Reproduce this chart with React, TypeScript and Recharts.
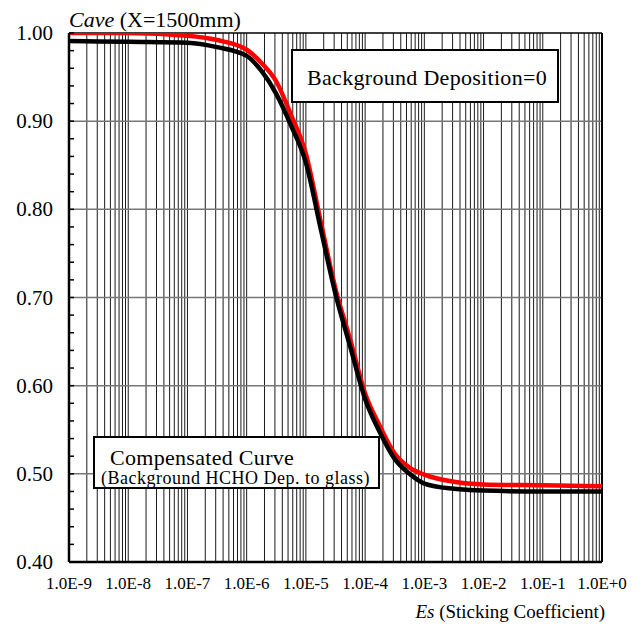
import React from 'react';
import { LineChart, Line, XAxis, YAxis, CartesianGrid, ReferenceLine } from 'recharts';

// Es (sticking coefficient) sample points
const esValues = [
  1e-9, 1e-8, 1e-7, 3.16e-7, 1e-6, 1.78e-6, 3.16e-6, 5.62e-6, 1e-5, 1.78e-5, 3.16e-5,
  5.62e-5, 1e-4, 1.78e-4, 3.16e-4, 5.62e-4, 1e-3, 3.16e-3, 1e-2, 1e-1, 1,
];
// Compensated curve (black)
const compensated = [
  0.991, 0.99, 0.989, 0.984, 0.974, 0.957, 0.931, 0.895, 0.853, 0.778, 0.704,
  0.644, 0.585, 0.547, 0.517, 0.5, 0.489, 0.483, 0.481, 0.48, 0.48,
];
// Background deposition = 0 (red)
const zeroDeposition = [
  1.0, 1.0, 0.997, 0.992, 0.981, 0.966, 0.945, 0.907, 0.863, 0.786, 0.71,
  0.652, 0.591, 0.554, 0.523, 0.507, 0.499, 0.491, 0.488, 0.487, 0.486,
];

const decades = [1e-9, 1e-8, 1e-7, 1e-6, 1e-5, 1e-4, 1e-3, 1e-2, 1e-1];
const multipliers = [1, 2, 3, 4, 5, 6, 7, 8, 9];
const xTicks = [...decades.flatMap((d) => multipliers.map((m) => m * d)), 1];
const yTicks = [
  0.4, 0.42, 0.44, 0.46, 0.48, 0.5, 0.52, 0.54, 0.56, 0.58, 0.6, 0.62, 0.64, 0.66, 0.68, 0.7,
  0.72, 0.74, 0.76, 0.78, 0.8, 0.82, 0.84, 0.86, 0.88, 0.9, 0.92, 0.94, 0.96, 0.98, 1.0,
];
const yMajor = [0.5, 0.6, 0.7, 0.8, 0.9];

const FONT = "'Liberation Serif', 'Times New Roman', Times, 'DejaVu Serif', serif";
const txt = (size: number, spacing = 0): React.CSSProperties => ({
  fontFamily: FONT,
  fontSize: size,
  letterSpacing: spacing,
});

const XTick = (props: any) => {
  const { x, y, payload } = props;
  const v = payload.value as number;
  const exp = Math.round(Math.log10(v));
  if (Math.abs(v / Math.pow(10, exp) - 1) > 1e-6) return null;
  const label = `1.0E${exp >= 0 ? '+' + exp : exp}`;
  return (
    <text x={x} y={y + 27} textAnchor="middle" style={txt(17)} fill="#000">
      {label}
    </text>
  );
};

const YTick = (props: any) => {
  const { x, y, payload } = props;
  const v = payload.value as number;
  if (Math.abs(v * 10 - Math.round(v * 10)) > 1e-6) return null;
  return (
    <text x={x} y={y + 7} textAnchor="end" style={txt(21)} fill="#000">
      {v.toFixed(2)}
    </text>
  );
};

export default function App() {
  const data = esValues.map((es, i) => ({ es, compensated: compensated[i], zero: zeroDeposition[i] }));
  return (
    <div style={{ position: 'absolute', left: 0, top: 0, width: 643, height: 632, background: '#fff' }}>
      <LineChart width={643} height={632} data={data} margin={{ top: 33, right: 41, left: 0, bottom: 0 }}>
        <CartesianGrid horizontal={false} stroke="#1a1a1a" strokeWidth={1} />
        {yMajor.map((v) => (
          <ReferenceLine key={v} y={v} stroke="#777" strokeWidth={1.5} />
        ))}
        <ReferenceLine y={1} stroke="#000" strokeWidth={1.5} />
        <ReferenceLine x={1} stroke="#000" strokeWidth={2} />
        <XAxis
          dataKey="es"
          type="number"
          scale="log"
          domain={[1e-9, 1]}
          allowDataOverflow
          ticks={xTicks}
          interval={0}
          tick={<XTick />}
          tickLine={false}
          tickSize={0}
          tickMargin={0}
          axisLine={{ stroke: '#000', strokeWidth: 2.5 }}
          height={70}
        />
        <YAxis
          type="number"
          domain={[0.4, 1]}
          allowDataOverflow
          ticks={yTicks}
          interval={0}
          width={69}
          tickSize={-5}
          tickMargin={21}
          tickLine={{ stroke: '#000', strokeWidth: 1.5 }}
          axisLine={{ stroke: '#000', strokeWidth: 2.5 }}
          tick={<YTick />}
        />
        <Line dataKey="zero" type="monotone" stroke="#ff0000" strokeWidth={4.5} dot={false} isAnimationActive={false} />
        <Line dataKey="compensated" type="monotone" stroke="#000" strokeWidth={4.5} dot={false} isAnimationActive={false} />
      </LineChart>
      <svg width={643} height={632} style={{ position: 'absolute', left: 0, top: 0, pointerEvents: 'none' }}>
        <text x={69} y={27} style={txt(22)} fill="#000">
          <tspan fontStyle="italic">Cave</tspan> (X=1500mm)
        </text>
        <text x={605} y={618} textAnchor="end" style={txt(19)} fill="#000">
          <tspan fontStyle="italic">Es</tspan> (Sticking Coefficient)
        </text>
        <rect x={292} y={50} width={266} height={52} fill="#fff" stroke="#000" strokeWidth={2} />
        <text x={427} y={85} textAnchor="middle" style={txt(22, 0.3)} fill="#000">
          Background Deposition=0
        </text>
        <rect x={94} y={437} width={285} height={51} fill="#fff" stroke="#000" strokeWidth={2} />
        <text x={110} y={465} style={txt(22, 0.3)} fill="#000">
          Compensated Curve
        </text>
        <text x={101} y={484} style={txt(18, 0.5)} fill="#000">
          (Background HCHO Dep. to glass)
        </text>
      </svg>
    </div>
  );
}
